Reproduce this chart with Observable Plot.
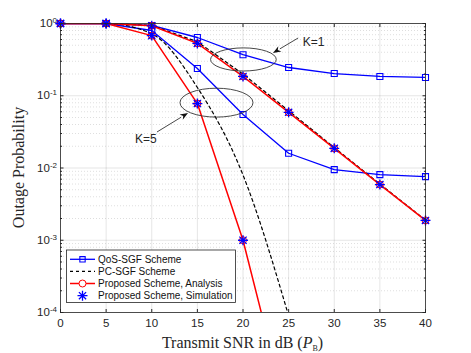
<!DOCTYPE html>
<html><head><meta charset="utf-8">
<script src="https://cdn.jsdelivr.net/npm/d3@7"></script>
<script src="https://cdn.jsdelivr.net/npm/@observablehq/plot@0.6"></script>
<style>body{margin:0;background:#fff} svg{display:block}</style>
</head><body><div id="chart"></div>
<script>
// ---- data ----
const snr = [0, 5, 10, 15, 20, 25, 30, 35, 40];
const qosK1 = [1, 1, 0.94, 0.64, 0.37, 0.246, 0.203, 0.185, 0.179];
const qosK5 = [1, 1, 0.80, 0.238, 0.055, 0.016, 0.0095, 0.0081, 0.0076];
const pcK1 = [1, 1, 0.94, 0.56, 0.20, 0.062, 0.0192, 0.006, 0.0019];
const pcK5 = [1, 1, 0.72, 0.13, 0.008, 0.00009];
const propK1 = [1, 1, 0.93, 0.53, 0.185, 0.059, 0.0187, 0.0059, 0.00188];
const propK5 = [1, 1, 0.68, 0.078, 0.001, 0.0000032];
const xTicks = [0, 5, 10, 15, 20, 25, 30, 35, 40];
const yMajor = [1e-4, 1e-3, 1e-2, 1e-1, 1];
const yExp = ["-4", "-3", "-2", "-1", "0"];
const legendLabels = ["QoS-SGF Scheme", "PC-SGF Scheme", "Proposed Scheme, Analysis", "Proposed Scheme, Simulation"];
const kLabels = ["K=1", "K=5"];
// annotation anchors (data coords)
const ellipses = [{cx: 20.1, cy: 0.313, rxDb: 3.6, ryDec: 0.16}, {cx: 17.15, cy: 0.079, rxDb: 4.0, ryDec: 0.2}];
const arrows = [{x1: 26.1, y1: 0.62, x2: 23.34, y2: 0.385}, {x1: 10.63, y1: 0.031, x2: 14.03, y2: 0.0568}];
const labelPos = [{x: 26.6, y: 0.546, anchor: "start"}, {x: 9.42, y: 0.0248, anchor: "middle"}];

const yMinor = [];
yMajor.slice(0, -1).forEach(d => { for (let k = 2; k <= 9; k++) yMinor.push(d * k); });

const rows = (ys) => ys.map((y, i) => ({x: snr[i], y}));
const inDom = (r) => r.filter(d => d.y >= 1e-4);

const BLUE = "#0000ff", RED = "#ff0000";
const star8 = {draw(ctx, size) {
  const r = Math.sqrt(size / Math.PI), d = r * 0.72;
  ctx.moveTo(-r, 0); ctx.lineTo(r, 0);
  ctx.moveTo(0, -r); ctx.lineTo(0, r);
  ctx.moveTo(-d, -d); ctx.lineTo(d, d);
  ctx.moveTo(-d, d); ctx.lineTo(d, -d);
}};

const lineOpts = (stroke, extra = {}) => ({x: "x", y: "y", stroke, strokeWidth: 1.3, clip: true, ...extra});

const plot = Plot.plot({
  width: 471, height: 353,
  marginLeft: 60, marginRight: 46, marginTop: 23, marginBottom: 41,
  x: {domain: [0, 40]},
  y: {type: "log", domain: [1e-4, 1]},
  style: {fontFamily: "'Liberation Sans', Arial, sans-serif", fontSize: "11.5px", background: "white", color: "#262626"},
  marks: [
    Plot.gridX(xTicks, {stroke: "#000", strokeOpacity: 0.1}),
    Plot.gridY(yMinor, {stroke: "#000", strokeOpacity: 0.13, strokeDasharray: "1,2"}),
    Plot.gridY(yMajor, {stroke: "#000", strokeOpacity: 0.1}),
    Plot.line(rows(qosK1), lineOpts(BLUE)),
    Plot.line(rows(qosK5), lineOpts(BLUE)),
    Plot.line(rows(pcK1), lineOpts("#000", {strokeDasharray: "3,3", strokeWidth: 1.2})),
    Plot.line(rows(pcK5), lineOpts("#000", {strokeDasharray: "3,3", strokeWidth: 1.2, curve: "monotone-x"})),
    Plot.line(rows(propK1), lineOpts(RED, {strokeWidth: 1.5})),
    Plot.line(rows(propK5), lineOpts(RED, {strokeWidth: 1.5})),
    Plot.dot(inDom(rows(qosK1)).concat(inDom(rows(qosK5))), {x: "x", y: "y", symbol: "square", r: 3.4, stroke: BLUE, fill: "none", strokeWidth: 1.1}),
    Plot.dot(inDom(rows(propK1)).concat(inDom(rows(propK5))), {x: "x", y: "y", r: 3.5, stroke: RED, fill: "none", strokeWidth: 1}),
    Plot.dot(inDom(rows(propK1)).concat(inDom(rows(propK5))), {x: "x", y: "y", symbol: star8, r: 5, stroke: BLUE, fill: "none", strokeWidth: 1.3}),
    Plot.frame({stroke: "#262626", strokeOpacity: 0.8}),
    Plot.axisX(xTicks, {anchor: "bottom", tickSize: -3, tickPadding: 9, label: null, tickFormat: d => String(d)}),
    Plot.axisX(xTicks, {anchor: "top", tickSize: -3, label: null, tickFormat: () => ""}),
    Plot.axisY(yMajor, {anchor: "left", tickSize: -3.5, tickPadding: 7, label: null, tickFormat: d => yExp[yMajor.indexOf(d)]}),
    Plot.axisY(yMinor, {anchor: "left", tickSize: -2, label: null, tickFormat: () => ""}),
    Plot.axisY(yMajor, {anchor: "right", tickSize: -3.5, label: null, tickFormat: () => ""}),
    Plot.axisY(yMinor, {anchor: "right", tickSize: -2, label: null, tickFormat: () => ""})
  ]
});
document.getElementById("chart").appendChild(plot);

const svg = d3.select(plot);
const sx = plot.scale("x"), sy = plot.scale("y");
const X = v => sx.apply(v), Y = v => sy.apply(v);

// superscript y tick labels
svg.selectAll('g[aria-label="y-axis tick label"] text').each(function() {
  const t = d3.select(this), e = t.text();
  if (!e) return;
  t.text(null);
  t.append("tspan").text("10");
  t.append("tspan").attr("dy", "-0.5em").attr("font-size", "8px").text(e);
});

// ellipses
const ann = svg.append("g").attr("fill", "none").attr("stroke", "#333").attr("stroke-width", 0.9);
ellipses.forEach(e => {
  ann.append("ellipse").attr("cx", X(e.cx)).attr("cy", Y(e.cy))
    .attr("rx", Math.abs(X(e.cx + e.rxDb) - X(e.cx)))
    .attr("ry", Math.abs(Y(e.cy * Math.pow(10, e.ryDec)) - Y(e.cy)));
});
// arrows
arrows.forEach(a => {
  const x1 = X(a.x1), y1 = Y(a.y1), x2 = X(a.x2), y2 = Y(a.y2);
  const ang = Math.atan2(y2 - y1, x2 - x1), L = 8, W = 3;
  const bx = x2 - L * Math.cos(ang), by = y2 - L * Math.sin(ang);
  ann.append("line").attr("x1", x1).attr("y1", y1).attr("x2", bx).attr("y2", by);
  ann.append("path").attr("fill", "#111").attr("stroke", "none")
    .attr("d", `M${x2},${y2}L${bx - W * Math.sin(ang)},${by + W * Math.cos(ang)}L${bx + L*0.3*Math.cos(ang)},${by + L*0.3*Math.sin(ang)}L${bx + W * Math.sin(ang)},${by - W * Math.cos(ang)}Z`);
});
labelPos.forEach((p, i) => {
  svg.append("text").attr("x", X(p.x)).attr("y", Y(p.y)).attr("dy", "0.35em")
    .attr("text-anchor", p.anchor).attr("font-size", "12px").attr("fill", "#262626")
    .attr("font-family", "'Liberation Sans', Arial, sans-serif").text(kLabels[i]);
});

// axis titles
const serif = "'Liberation Serif', 'Times New Roman', serif";
const xt = svg.append("text").attr("x", 242.5).attr("y", 348).attr("text-anchor", "middle")
  .attr("font-family", serif).attr("font-size", "16px").attr("fill", "#262626");
xt.append("tspan").text("Transmit SNR in dB (");
xt.append("tspan").attr("font-style", "italic").text("P");
xt.append("tspan").attr("font-size", "8px").attr("dy", "3").text("B");
xt.append("tspan").attr("dy", "-3").text(")");
svg.append("text").attr("transform", "translate(24,167.5) rotate(-90)").attr("text-anchor", "middle")
  .attr("font-family", serif).attr("font-size", "16px").attr("fill", "#262626").text("Outage Probability");

// legend
const lg = svg.append("g").attr("font-family", "'Liberation Sans', Arial, sans-serif").attr("font-size", "10px").attr("text-anchor", "start");
lg.append("rect").attr("x", 66.5).attr("y", 250).attr("width", 169).attr("height", 52.5)
  .attr("fill", "white").attr("stroke", "#262626").attr("stroke-width", 0.8);
const rowsY = [259.3, 271.3, 283.5, 295.7];
rowsY.forEach((yy, i) => {
  if (i === 0) {
    lg.append("line").attr("x1", 70).attr("x2", 95).attr("y1", yy).attr("y2", yy).attr("stroke", BLUE).attr("stroke-width", 1.3);
    lg.append("path").attr("transform", `translate(82.5,${yy})`).attr("d", d3.symbol(d3.symbolSquare2, Math.PI * 3.4 * 3.4)()).attr("fill", "none").attr("stroke", BLUE).attr("stroke-width", 1.1);
  } else if (i === 1) {
    lg.append("line").attr("x1", 70).attr("x2", 95).attr("y1", yy).attr("y2", yy).attr("stroke", "#000").attr("stroke-width", 1.2).attr("stroke-dasharray", "3,3");
  } else if (i === 2) {
    lg.append("line").attr("x1", 70).attr("x2", 95).attr("y1", yy).attr("y2", yy).attr("stroke", RED).attr("stroke-width", 1.5);
    lg.append("circle").attr("cx", 82.5).attr("cy", yy).attr("r", 3.5).attr("fill", "white").attr("stroke", RED).attr("stroke-width", 1);
  } else {
    lg.append("path").attr("transform", `translate(82.5,${yy})`).attr("d", d3.symbol(star8, Math.PI * 25)()).attr("fill", "none").attr("stroke", BLUE).attr("stroke-width", 1.3);
  }
  lg.append("text").attr("x", 98).attr("y", yy).attr("dy", "0.35em").attr("fill", "#111").text(legendLabels[i]);
});
</script></body></html>
